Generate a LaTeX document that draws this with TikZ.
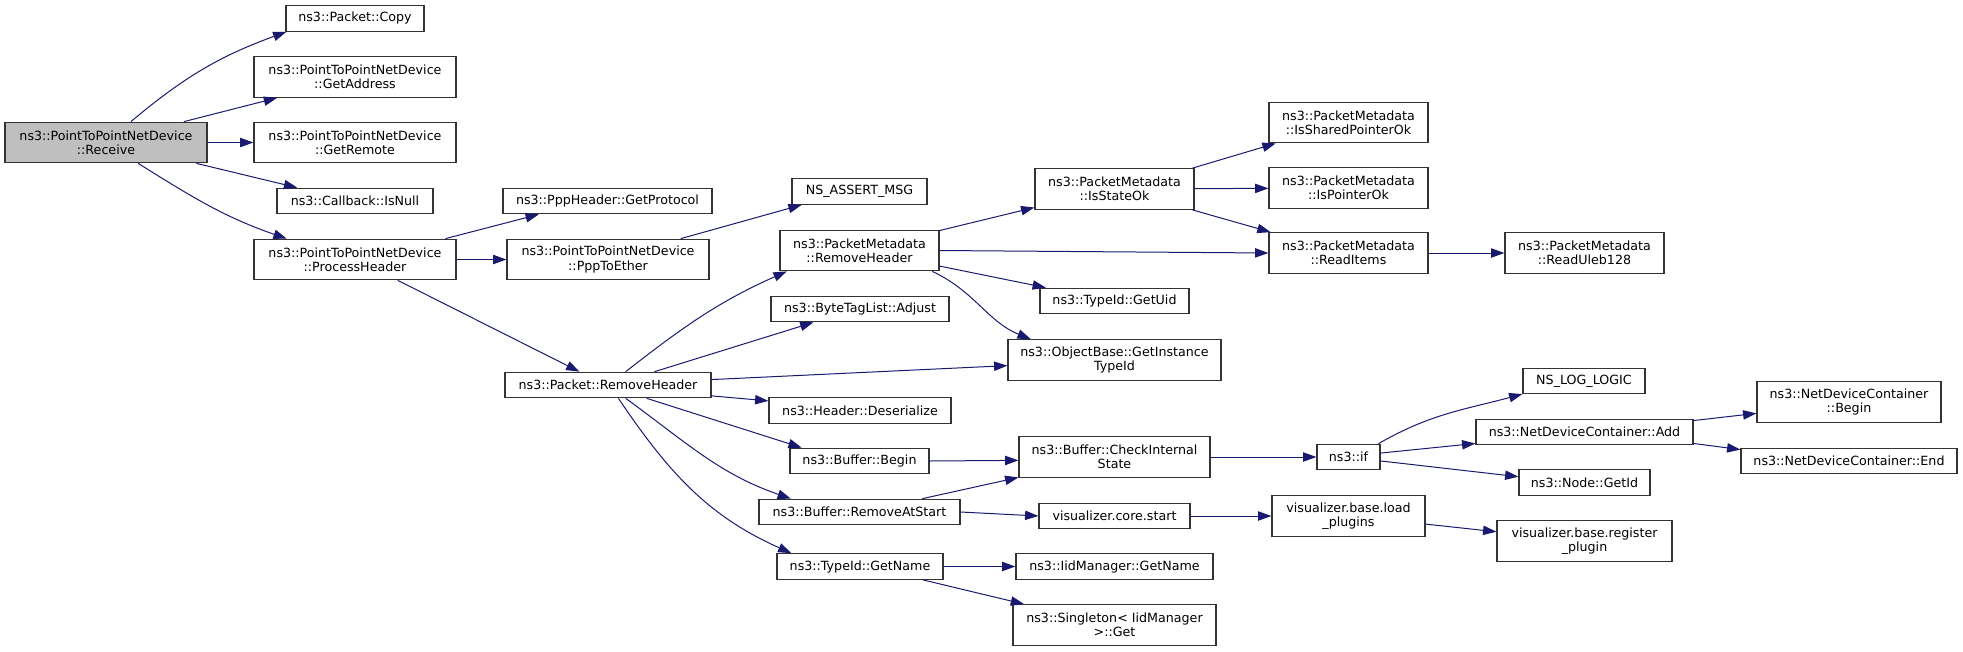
\documentclass[tikz,border=0pt]{standalone}
\usepackage{fontspec}
\setmainfont{DejaVu Sans}
\usetikzlibrary{arrows.meta}
\definecolor{edgeblue}{RGB}{25,25,112}
\definecolor{rootgray}{RGB}{191,191,191}
\tikzset{
	boxwd/.style={
		minimum width=#1*0.75pt
	}
}

\begin{document}
\begin{tikzpicture}[x=0.75pt, y=-0.75pt]
		\tikzstyle{main}=[rectangle, draw=black!80, line width=0.9pt, fill=white, inner sep=1pt, minimum height=19.1pt, align=center, font=\fontsize{9.5}{10.7}\selectfont]
		\tikzstyle{tall}=[minimum height=30.4pt]
		\tikzstyle{connect}=[draw=edgeblue, line width=0.75pt, -{Triangle[length=10pt, width=7pt]}]
		\useasboundingbox (0,0) rectangle (1963,651);
		\node[main, fill = rootgray] (rec) [tall, boxwd=202] at (106,142.5) {ns3::PointToPointNetDevice\\::Receive};
		\node[main] (copy) [boxwd=138] at (355,18.5) {ns3::Packet::Copy};
		\node[main] (addr) [tall, boxwd=202] at (355,77) {ns3::PointToPointNetDevice\\::GetAddress};
		\node[main] (remote) [tall, boxwd=202] at (355,142.5) {ns3::PointToPointNetDevice\\::GetRemote};
		\node[main] (isnull) [boxwd=156] at (355,201) {ns3::Callback::IsNull};
		\node[main] (proc) [tall, boxwd=202] at (355,259.5) {ns3::PointToPointNetDevice\\::ProcessHeader};
		\node[main] (proto) [boxwd=209] at (607.5,201) {ns3::PppHeader::GetProtocol};
		\node[main] (ppp2eth) [tall, boxwd=202] at (608,259.5) {ns3::PointToPointNetDevice\\::PppToEther};
		\node[main] (pkrm) [boxwd=206] at (608,385) {ns3::Packet::RemoveHeader};
		\node[main] (assert) [boxwd=135] at (859.5,191.5) {NS\_ASSERT\_MSG};
		\node[main] (pmrm) [tall, boxwd=159] at (859.5,250.5) {ns3::PacketMetadata\\::RemoveHeader};
		\node[main] (adjust) [boxwd=178] at (860,309) {ns3::ByteTagList::Adjust};
		\node[main] (hdes) [boxwd=182] at (860,410.5) {ns3::Header::Deserialize};
		\node[main] (bbegin) [boxwd=139] at (859.5,461) {ns3::Buffer::Begin};
		\node[main] (rmstart) [boxwd=201] at (859.5,512) {ns3::Buffer::RemoveAtStart};
		\node[main] (getname) [boxwd=166] at (860,566.5) {ns3::TypeId::GetName};
		\node[main] (isstate) [tall, boxwd=159] at (1114.5,189) {ns3::PacketMetadata\\::IsStateOk};
		\node[main] (getuid) [boxwd=149] at (1114.5,301) {ns3::TypeId::GetUid};
		\node[main] (instid) [tall, boxwd=213] at (1114.5,360) {ns3::ObjectBase::GetInstance\\TypeId};
		\node[main] (check) [tall, boxwd=191] at (1114.5,457) {ns3::Buffer::CheckInternal\\State};
		\node[main] (corestart) [boxwd=151] at (1114.5,516) {visualizer.core.start};
		\node[main] (iidname) [boxwd=197] at (1114.5,566.5) {ns3::IidManager::GetName};
		\node[main] (singleton) [tall, boxwd=203] at (1114.5,625) {ns3::Singleton< IidManager\\>::Get};
		\node[main] (shared) [tall, boxwd=159] at (1348.5,122.5) {ns3::PacketMetadata\\::IsSharedPointerOk};
		\node[main] (isptr) [tall, boxwd=159] at (1348.5,188) {ns3::PacketMetadata\\::IsPointerOk};
		\node[main] (readitems) [tall, boxwd=159] at (1348.5,253) {ns3::PacketMetadata\\::ReadItems};
		\node[main] (uleb) [tall, boxwd=159] at (1584.5,253) {ns3::PacketMetadata\\::ReadUleb128};
		\node[main] (nsif) [boxwd=63] at (1348.5,457) {ns3::if};
		\node[main] (loadpl) [tall, boxwd=153] at (1348.5,516) {visualizer.base.load\\\_plugins};
		\node[main] (logic) [boxwd=122] at (1584,381) {NS\_LOG\_LOGIC};
		\node[main] (ndcadd) [boxwd=217] at (1584.5,432) {ns3::NetDeviceContainer::Add};
		\node[main] (nodeid) [boxwd=131] at (1584.5,482.5) {ns3::Node::GetId};
		\node[main] (regpl) [tall, boxwd=175] at (1584.5,541) {visualizer.base.register\\\_plugin};
		\node[main] (ndcbegin) [tall, boxwd=184] at (1849,402) {ns3::NetDeviceContainer\\::Begin};
		\node[main] (ndcend) [boxwd=216] at (1849,461) {ns3::NetDeviceContainer::End};
		
		\path
		(rec.40) edge [connect, out=40, in=200] (copy.191)
		(rec.15) edge [connect] (addr.195)
		(rec) edge [connect] (remote)
		(rec.-13) edge [connect] (isnull.167)
		(rec.-33) edge [connect, out=-32, in=161] (proc.163)
		(proc.13) edge [connect] (proto.191)
		(proc) edge [connect] (ppp2eth)
		(proc.-26) edge [connect] (pkrm.155)
		(ppp2eth.16) edge [connect] (assert.193)
		(pkrm.37) edge [connect, out=38, in=204] (pmrm.196)
		(pkrm.16) edge [connect] (adjust.196)
		(pkrm.3) edge [connect] (instid.183)
		(pkrm.-6) edge [connect] (hdes.174)
		(pkrm.-19) edge [connect] (bbegin.167)
		(pkrm.-37) edge [connect, out=-36, in=161] (rmstart.169)
		(pkrm.-52) edge [connect, out=-56, in=156] (getname.169)
		(pmrm.14) edge [connect] (isstate.193)
		(pmrm.east) edge [connect] (readitems.west)
		(pmrm.-11) edge [connect] (getuid.169)
		(pmrm.-16) edge [connect, out=-25, in=158] (instid.166)
		(isstate.15) edge [connect] (shared.196)
		(isstate) edge [connect] (isptr)
		(isstate.-15) edge [connect] (readitems.165)
		(readitems) edge [connect] (uleb)
		(bbegin.east) edge [connect] (check.182)
		(rmstart.12) edge [connect] (check.192)
		(rmstart.east) edge [connect] (corestart.west)
		(check) edge [connect] (nsif)
		(nsif.24) edge [connect, out=30, in=195] (logic.192)
		(nsif.7) edge [connect] (ndcadd.186)
		(nsif.-7) edge [connect] (nodeid.175)
		(ndcadd.6) edge [connect] (ndcbegin.187)
		(ndcadd.-6) edge [connect] (ndcend.174)
		(corestart) edge [connect] (loadpl)
		(loadpl.-6) edge [connect] (regpl.174)
		(getname) edge [connect] (iidname)
		(getname.-12) edge [connect] (singleton.167)
		;
		
\end{tikzpicture}
\end{document}
